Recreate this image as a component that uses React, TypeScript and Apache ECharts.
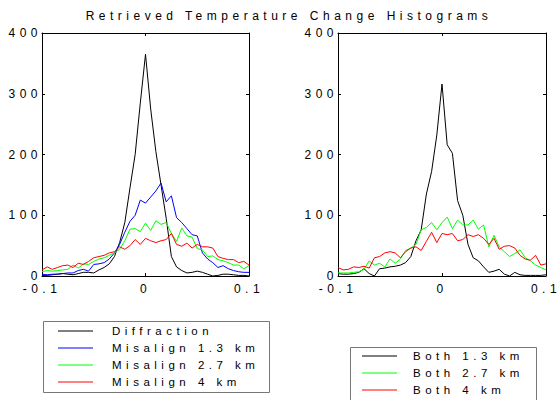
import React, { useEffect, useRef } from "react";
import * as echarts from "echarts";

const TITLE = "Retrieved Temperature Change Histograms";

const binCenters = [
  -0.1, -0.095, -0.09, -0.085, -0.08, -0.075, -0.07, -0.065, -0.06, -0.055,
  -0.05, -0.045, -0.04, -0.035, -0.03, -0.025, -0.02, -0.015, -0.01, -0.005,
  0, 0.005, 0.01, 0.015, 0.02, 0.025, 0.03, 0.035, 0.04, 0.045,
  0.05, 0.055, 0.06, 0.065, 0.07, 0.075, 0.08, 0.085, 0.09, 0.095, 0.1,
];

// Left panel
const diffraction = [
  1, 1, 2, 3, 4, 3, 2, 4, 6, 6,
  5, 10, 14, 20, 32, 55, 88, 145, 200, 285,
  365, 275, 205, 150, 95, 32, 15, 9, 5, 6,
  8, 6, 3, 0, 1, 3, 3, 2, 1, 1, 0,
];
const misalign13 = [
  3, 2, 3, 3, 4, 5, 5, 9, 11, 8,
  19, 20, 22, 28, 38, 52, 72, 90, 100, 125,
  120, 130, 140, 153, 122, 132, 96, 88, 78, 68,
  66, 38, 28, 22, 14, 17, 12, 9, 7, 6, 6,
];
const misalign27 = [
  7, 9, 8, 9, 10, 11, 18, 13, 20, 19,
  24, 28, 30, 34, 38, 44, 58, 77, 78, 73,
  87, 75, 91, 85, 88, 70, 57, 79, 66, 64,
  45, 43, 32, 33, 27, 25, 22, 18, 18, 12, 17,
];
const misalign4 = [
  10, 15, 11, 14, 17, 18, 14, 21, 19, 24,
  30, 32, 34, 38, 40, 48, 44, 50, 60, 52,
  62, 58, 55, 58, 60, 70, 52, 49, 54, 46,
  52, 48, 48, 46, 32, 29, 27, 27, 22, 24, 18,
];

// Right panel
const both13 = [
  4, 3, 3, 4, 6, 12, 4, 0, 12, 13,
  15, 16, 18, 22, 32, 58, 76, 135, 172, 232,
  316, 216, 202, 124, 100, 52, 30, 25, 15, 6,
  8, 11, 3, 0, 6, 2, 1, 1, 1, 1, 2,
];
const both27 = [
  5, 5, 5, 6, 7, 11, 25, 18, 21, 15,
  28, 21, 28, 42, 46, 52, 76, 80, 88, 76,
  88, 97, 78, 92, 84, 84, 92, 77, 84, 48,
  67, 48, 40, 32, 37, 43, 30, 25, 18, 14, 10,
];
const both4 = [
  14, 10, 11, 15, 14, 16, 13, 30, 32, 38,
  40, 38, 30, 40, 46, 48, 42, 57, 72, 55,
  70, 68, 70, 58, 60, 68, 65, 68, 62, 52,
  62, 44, 49, 50, 46, 34, 28, 26, 34, 18, 20,
];

const leftNames = ["Diffraction", "Misalign 1.3 km", "Misalign 2.7 km", "Misalign 4 km"];
const leftColors = ["#000000", "#0000ff", "#00ff00", "#ff0000"];
const leftData = [diffraction, misalign13, misalign27, misalign4];

const rightNames = ["Both 1.3 km", "Both 2.7 km", "Both 4 km"];
const rightColors = ["#000000", "#00ff00", "#ff0000"];
const rightData = [both13, both27, both4];

const FONT = "'Liberation Sans', Arial, Helvetica, sans-serif";

export default function App() {
  const ref = useRef<HTMLDivElement>(null);

  useEffect(() => {
    if (!ref.current) return;
    const chart = echarts.init(ref.current, undefined, { renderer: "svg" });

    const grids = [
      { left: 42, top: 33, width: 207, height: 243 },
      { left: 338, top: 33, width: 208, height: 243 },
    ];

    const axisLine = { show: true, onZero: false, lineStyle: { color: "#000", width: 1 } };
    const axisTick = { show: true, inside: true, length: 3, lineStyle: { color: "#000" } };
    const labelStyle = { color: "#000", fontSize: 12, lineHeight: 11, fontFamily: FONT };

    const xAxis: any[] = [];
    const yAxis: any[] = [];
    grids.forEach((_, g) => {
      xAxis.push({
        type: "value", gridIndex: g, min: -0.1, max: 0.1, interval: 0.1, position: "bottom",
        axisLine, axisTick, splitLine: { show: false },
        axisLabel: { ...labelStyle, margin: 7 },
      });
      xAxis.push({
        type: "value", gridIndex: g, min: -0.1, max: 0.1, interval: 0.1, position: "top",
        axisLine, axisTick, splitLine: { show: false }, axisLabel: { show: false },
      });
      yAxis.push({
        type: "value", gridIndex: g, min: 0, max: 400, interval: 100, position: "left",
        axisLine, axisTick, splitLine: { show: false },
        axisLabel: { ...labelStyle, margin: 0 },
      });
      yAxis.push({
        type: "value", gridIndex: g, min: 0, max: 400, interval: 100, position: "right",
        axisLine, axisTick, splitLine: { show: false }, axisLabel: { show: false },
      });
    });

    const series: any[] = [];
    leftData.forEach((vals, i) => {
      series.push({
        type: "line", name: leftNames[i], xAxisIndex: 0, yAxisIndex: 0,
        data: vals.map((v, k) => [binCenters[k], v]),
        showSymbol: false, lineStyle: { color: leftColors[i], width: 1 },
        itemStyle: { color: leftColors[i] },
      });
    });
    rightData.forEach((vals, i) => {
      series.push({
        type: "line", name: rightNames[i], xAxisIndex: 2, yAxisIndex: 2,
        data: vals.map((v, k) => [binCenters[k], v]),
        showSymbol: false, lineStyle: { color: rightColors[i], width: 1 },
        itemStyle: { color: rightColors[i] },
      });
    });

    const legendBox = (
      names: string[], colors: string[], x: number, y: number, w: number, h: number,
      row0: number, lineX0: number, lineX1: number, textX: number
    ) => {
      const children: any[] = [
        { type: "rect", shape: { x, y, width: w, height: h },
          style: { fill: "#fff", stroke: "#777", lineWidth: 1 } },
      ];
      names.forEach((n, i) => {
        const yy = row0 + i * 17;
        children.push({ type: "line", shape: { x1: lineX0, y1: yy, x2: lineX1, y2: yy },
          style: { stroke: colors[i], lineWidth: 1 } });
        children.push({ type: "text", x: textX, y: yy,
          style: { text: n, fill: "#000", fontSize: 11.5, fontFamily: FONT,
            textAlign: "left", textVerticalAlign: "middle" } });
      });
      return { type: "group", children };
    };

    chart.setOption({
      animation: false,
      backgroundColor: "#fff",
      grid: grids.map((g) => ({ ...g, containLabel: false })),
      xAxis,
      yAxis,
      series,
      graphic: [
        { type: "text", x: 289, y: 16,
          style: { text: TITLE, fill: "#000", fontSize: 12, fontFamily: FONT,
            textAlign: "center", textVerticalAlign: "middle" } },
        legendBox(leftNames, leftColors, 43.5, 321.5, 226, 71, 331, 58, 93, 112),
        legendBox(rightNames, rightColors, 350.5, 347.5, 186, 60, 356, 362, 397, 413),
      ],
    });

    return () => chart.dispose();
  }, []);

  return (
    <div style={{ position: "fixed", left: 0, top: 0 }}>
      <style>{".histo text { letter-spacing: 4.5px; }"}</style>
      <div className="histo" ref={ref} style={{ width: 560, height: 400 }} />
    </div>
  );
}
